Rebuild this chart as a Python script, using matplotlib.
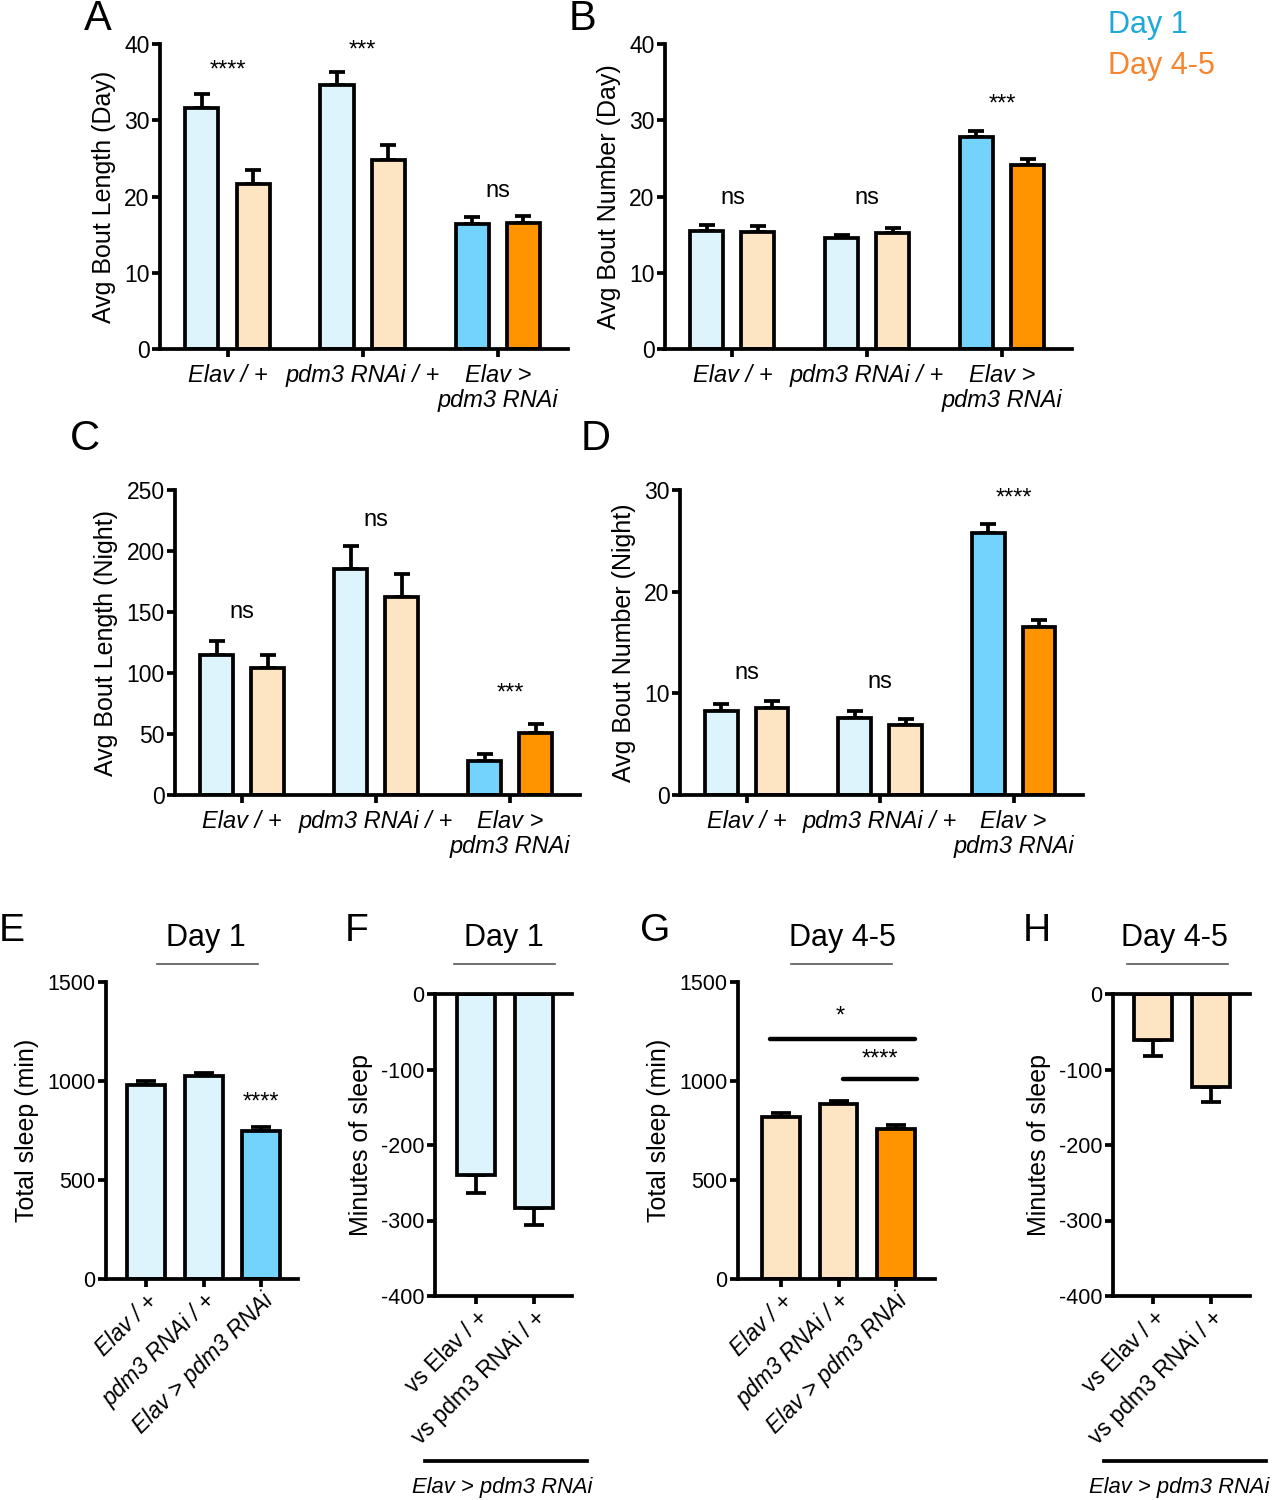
import matplotlib
matplotlib.use("Agg")
import matplotlib.pyplot as plt
from matplotlib.lines import Line2D
import numpy as np

plt.rcParams["font.family"] = ["Liberation Sans", "DejaVu Sans"]
plt.rcParams["axes.unicode_minus"] = False

# ---- data ----
groups = ["Elav / +", "pdm3 RNAi / +", "Elav >\npdm3 RNAi"]

a_day1 = [31.6, 34.6, 16.4]
a_day1_err = [1.9, 1.7, 0.9]
a_day45 = [21.7, 24.8, 16.5]
a_day45_err = [1.8, 2.0, 0.9]
a_sig = ["****", "***", "ns"]
a_sig_y = [36.5, 39.1, 20.7]

b_day1 = [15.5, 14.5, 27.8]
b_day1_err = [0.7, 0.5, 0.8]
b_day45 = [15.4, 15.2, 24.1]
b_day45_err = [0.7, 0.7, 0.8]
b_sig = ["ns", "ns", "***"]
b_sig_y = [19.8, 19.8, 32.1]

c_day1 = [115, 185, 28]
c_day1_err = [11, 19, 6]
c_day45 = [104, 162, 51]
c_day45_err = [11, 19, 7]
c_sig = ["ns", "ns", "***"]
c_sig_y = [150, 225, 83]

d_day1 = [8.3, 7.6, 25.8]
d_day1_err = [0.7, 0.7, 0.9]
d_day45 = [8.6, 6.9, 16.5]
d_day45_err = [0.6, 0.6, 0.7]
d_sig = ["ns", "ns", "****"]
d_sig_y = [12.0, 11.1, 29.2]

total_labels = ["Elav / +", "pdm3 RNAi / +", "Elav > pdm3 RNAi"]
e_total = [980, 1025, 745]
e_err = [20, 15, 25]
g_total = [820, 885, 760]
g_err = [18, 15, 20]

diff_labels = ["vs Elav / +", "vs pdm3 RNAi / +"]
f_diff = [-240, -283]
f_err = [23, 23]
h_diff = [-61, -123]
h_err = [21, 20]

# ---- style ----
LIGHT_BLUE = "#DDF4FD"
BLUE = "#74D3FD"
LIGHT_ORANGE = "#FDE5C4"
ORANGE = "#FF9300"
LW = 2.7

W, H = 1272, 1500
fig = plt.figure(figsize=(W / 100, H / 100), dpi=100)


def px_axes(left, top, right, bottom):
    return fig.add_axes([left / W, 1 - bottom / H, (right - left) / W, (bottom - top) / H])


def style(ax, labelsize=16.5):
    for s in ["top", "right"]:
        ax.spines[s].set_visible(False)
    for s in ["left", "bottom"]:
        ax.spines[s].set_linewidth(LW)
    ax.tick_params(width=LW, length=5.5, labelsize=labelsize, pad=2)


def bars(ax, x, vals, errs, colors, width, cap, down=False):
    zero = [0] * len(vals)
    yerr = [errs, zero] if down else [zero, errs]
    ax.errorbar(x, vals, yerr=yerr, fmt="none", ecolor="black",
                elinewidth=LW, capsize=cap, capthick=LW, zorder=1)
    ax.bar(x, vals, width, color=colors, edgecolor="black", linewidth=LW, zorder=2)


def paired_panel(rect, d1, e1, d45, e45, ymax, step, ylabel, sig, sig_y):
    ax = px_axes(*rect)
    style(ax)
    x = np.arange(len(groups))
    off, wid = 0.19, 0.245
    bars(ax, x - off, d1, e1, [LIGHT_BLUE, LIGHT_BLUE, BLUE], wid, 5.5)
    bars(ax, x + off, d45, e45, [LIGHT_ORANGE, LIGHT_ORANGE, ORANGE], wid, 5.5)
    ax.set_xlim(-0.5, 2.52)
    ax.set_ylim(0, ymax)
    ax.set_yticks(np.arange(0, ymax + 1, step))
    ax.set_xticks(x)
    ax.set_xticklabels(groups, style="italic", fontsize=17, linespacing=1.15)
    ax.tick_params(axis="x", pad=5)
    ax.set_ylabel(ylabel, fontsize=18, labelpad=6)
    for xi, s, yy in zip(x, sig, sig_y):
        ax.text(xi, yy, s, ha="center", va="center", fontsize=17, clip_on=False)
    return ax


paired_panel((160, 44, 568, 349), a_day1, a_day1_err, a_day45, a_day45_err,
             40, 10, "Avg Bout Length (Day)", a_sig, a_sig_y)
paired_panel((665, 44, 1072, 349), b_day1, b_day1_err, b_day45, b_day45_err,
             40, 10, "Avg Bout Number (Day)", b_sig, b_sig_y)
paired_panel((175, 490, 580, 795), c_day1, c_day1_err, c_day45, c_day45_err,
             250, 50, "Avg Bout Length (Night)", c_sig, c_sig_y)
paired_panel((680, 490, 1083, 795), d_day1, d_day1_err, d_day45, d_day45_err,
             30, 10, "Avg Bout Number (Night)", d_sig, d_sig_y)


def total_panel(rect, vals, errs, colors, xlim):
    ax = px_axes(*rect)
    style(ax, 15.5)
    x = np.arange(len(vals))
    bars(ax, x, vals, errs, colors, 0.66, 7.5)
    ax.set_xlim(*xlim)
    ax.set_ylim(0, 1500)
    ax.set_yticks([0, 500, 1000, 1500])
    ax.set_xticks(x)
    ax.set_xticklabels(total_labels, style="italic", fontsize=16.5, rotation=45,
                       ha="right", rotation_mode="anchor")
    ax.set_ylabel("Total sleep (min)", fontsize=18, labelpad=6)
    return ax


def diff_panel(rect, vals, errs, color, xlim):
    ax = px_axes(*rect)
    style(ax, 15.5)
    ax.spines["top"].set_visible(True)
    ax.spines["top"].set_linewidth(LW)
    x = np.arange(len(vals))
    bars(ax, x, vals, errs, [color] * len(vals), 0.66, 7.5, down=True)
    ax.set_xlim(*xlim)
    ax.set_ylim(-400, 0)
    ax.set_yticks([0, -100, -200, -300, -400])
    ax.set_xticks(x)
    ax.set_xticklabels(diff_labels, fontsize=16.5, rotation=45,
                       ha="right", rotation_mode="anchor")
    ax.set_ylabel("Minutes of sleep", fontsize=18, labelpad=6)
    return ax


ax_e = total_panel((106, 982, 298, 1279), e_total, e_err, [LIGHT_BLUE, LIGHT_BLUE, BLUE], (-0.7, 2.64))
ax_e.text(2, 889, "****", ha="center", va="center", fontsize=17)

diff_panel((435, 994, 572, 1296), f_diff, f_err, LIGHT_BLUE, (-0.71, 1.66))

ax_g = total_panel((738, 982, 935, 1279), g_total, g_err, [LIGHT_ORANGE, LIGHT_ORANGE, ORANGE], (-0.75, 2.68))
# significance brackets in G
ax_g.plot([-0.19, 2.33], [1212, 1212], color="black", lw=3.2, solid_capstyle="round", clip_on=False)
ax_g.text(1.03, 1328, "*", ha="center", va="center", fontsize=17)
ax_g.plot([1.08, 2.37], [1010, 1010], color="black", lw=3.2, solid_capstyle="round", clip_on=False)
ax_g.text(1.72, 1106, "****", ha="center", va="center", fontsize=17)

diff_panel((1113, 994, 1250, 1296), h_diff, h_err, LIGHT_ORANGE, (-0.69, 1.67))


# ---- figure-level text ----
def ftext(x, y, s, **kw):
    fig.text(x / W, 1 - y / H, s, **kw)


def fline(x0, x1, y, **kw):
    fig.add_artist(Line2D([x0 / W, x1 / W], [1 - y / H, 1 - y / H], **kw))


for letter, x, y, size in [("A", 98, 19, 30), ("B", 583, 19, 30), ("C", 85, 439, 30),
                           ("D", 596, 439, 30), ("E", 12, 931, 28), ("F", 357, 931, 28),
                           ("G", 655, 931, 28), ("H", 1037, 931, 28)]:
    ftext(x, y, letter, ha="center", va="center", fontsize=size)

for title, x, x0, x1 in [("Day 1", 206, 157, 258), ("Day 1", 504, 454, 555),
                         ("Day 4-5", 842, 791, 892), ("Day 4-5", 1174, 1127, 1228)]:
    ftext(x, 938, title, ha="center", va="center", fontsize=22)
    fline(x0, x1, 964, color="#555555", lw=1.2)

for x0, x1, xc in [(425, 587, 502), (1104, 1266, 1179)]:
    fline(x0, x1, 1461, color="black", lw=2.7)
    ftext(xc, 1488, "Elav > pdm3 RNAi", ha="center", va="center", fontsize=15.8, style="italic")

ftext(1108, 25, "Day 1", ha="left", va="center", fontsize=22, color="#1EA9D8")
ftext(1108, 66, "Day 4-5", ha="left", va="center", fontsize=22, color="#F5852F")

fig.savefig("out.png", dpi=100)
